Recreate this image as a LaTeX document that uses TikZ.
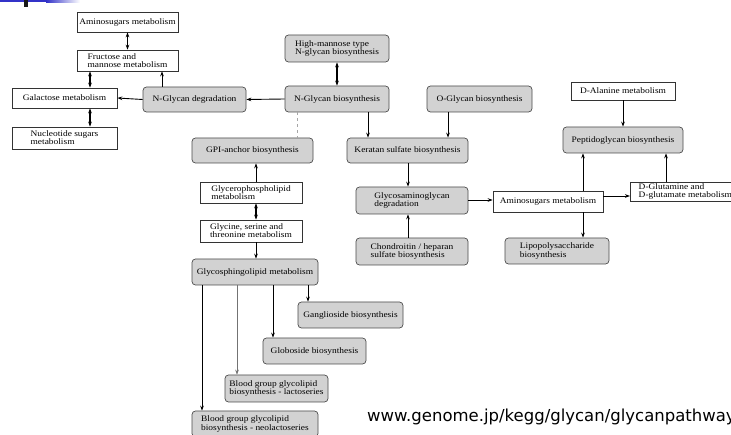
\documentclass[tikz,border=0pt]{standalone}
\usepackage{fontspec}
\setmainfont{Liberation Serif}[FakeStretch=1.12]
\newfontfamily\urlfont{DejaVu Sans}
\usetikzlibrary{arrows.meta}
\definecolor{boxgray}{HTML}{D2D2D2}
\definecolor{barblue}{HTML}{3232C8}
\tikzset{
  base/.style={line width=0.7pt, inner sep=1pt, align=left, text=black,
    font=\fontsize{8.4}{8.2}\selectfont},
  wbox/.style n args={2}{base, draw=black!80, fill=white, minimum width=#1, minimum height=#2},
  gbox/.style n args={2}{base, draw=black!70, fill=boxgray, rounded corners=3.5pt, minimum width=#1, minimum height=#2},
  tip/.tip={Stealth[length=5pt,width=3.6pt]},
  arr/.style={-tip, line width=0.9pt, draw=black},
  darr/.style={tip-tip, line width=1.1pt, draw=black},
  thinarr/.style={-tip, line width=0.5pt, draw=black!55},
  dashline/.style={dashed, line width=0.8pt, draw=black!35},
}
\begin{document}
\begin{tikzpicture}[x=1pt,y=-1pt]
\useasboundingbox (0,0) rectangle (731,435);
\fill[white] (0,0) rectangle (731,435);
\clip (0,0) rectangle (731,435);
% slide decoration
\fill[barblue] (0,0) rectangle (46,2.5);
\shade[left color=barblue, right color=white] (46,0) rectangle (80,2.5);
\fill[black!90] (24,0) rectangle (28,7);

% nodes
\node[wbox={101pt}{20pt}] (am1) at (127.5,22) {Aminosugars metabolism};
\node[wbox={101pt}{21pt}] (fm) at (127.5,60.5) {Fructose and\\mannose metabolism};
\node[wbox={105pt}{20pt}] (gal) at (64.5,98) {Galactose metabolism};
\node[wbox={105pt}{22pt}] (nuc) at (64.5,138) {Nucleotide sugars\\metabolism};
\node[gbox={103pt}{25pt}] (ngd) at (194.5,99.5) {N-Glycan degradation};
\node[gbox={104pt}{27pt}] (hm) at (337,48.5) {High-mannose type\\N-glycan biosynthesis};
\node[gbox={104pt}{26pt}] (ngb) at (337,99) {N-Glycan biosynthesis};
\node[gbox={105pt}{26pt}] (ogb) at (479.5,99) {O-Glycan biosynthesis};
\node[gbox={121pt}{25pt}] (gpi) at (252.5,150.5) {GPI-anchor biosynthesis};
\node[gbox={121pt}{25pt}] (ks) at (407.5,150.5) {Keratan sulfate biosynthesis};
\node[wbox={102pt}{21pt}] (gp) at (251,192.5) {Glycerophospholipid\\metabolism};
\node[wbox={102pt}{22pt}] (gly) at (251,231) {Glycine, serine and\\threonine metabolism};
\node[gbox={126pt}{26pt}] (gsl) at (255,272) {Glycosphingolipid metabolism};
\node[gbox={112pt}{27pt}] (gag) at (412,200.5) {Glycosaminoglycan\\degradation};
\node[gbox={112pt}{27pt}] (chs) at (412,251.5) {Chondroitin / heparan\\sulfate biosynthesis};
\node[wbox={110pt}{21pt}] (am2) at (548,201.5) {Aminosugars metabolism};
\node[gbox={104pt}{26pt}] (lps) at (557,251) {Lipopolysaccharide\\biosynthesis};
\node[gbox={120pt}{26pt}] (pg) at (623,140) {Peptidoglycan biosynthesis};
\node[wbox={104pt}{18pt}] (da) at (623,91) {D-Alanine metabolism};
\node[wbox={110pt}{19pt}, anchor=west] (dg) at (630,191.5) {D-Glutamine and\\D-glutamate metabolism};
\node[gbox={105pt}{26pt}] (gang) at (350.5,315) {Ganglioside biosynthesis};
\node[gbox={103pt}{26pt}] (glo) at (314.5,351) {Globoside biosynthesis};
\node[gbox={103pt}{27pt}] (bgl) at (276.5,388.5) {Blood group glycolipid\\biosynthesis - lactoseries};
\node[gbox={126pt}{26pt}] (bgn) at (255,424) {Blood group glycolipid\\biosynthesis - neolactoseries};

% connectors
\draw[darr] (am1) -- (fm);
\draw[darr] (90,0 |- fm.south) -- (90,0 |- gal.north);
\draw[darr] (90,0 |- gal.south) -- (90,0 |- nuc.north);
\draw[arr] (162,0 |- ngd.north) -- (162,0 |- fm.south);
\draw[arr] (ngd.west) -- (gal.east);
\draw[arr] (ngb.west) -- (ngd.east);
\draw[darr] (hm) -- (ngb);
\draw[dashline] (297,0 |- ngb.south) -- (297,0 |- gpi.north);
\draw[arr] (368,0 |- ngb.south) -- (368,0 |- ks.north);
\draw[arr] (448,0 |- ogb.south) -- (448,0 |- ks.north);
\draw[arr] (256,0 |- gp.north) -- (256,0 |- gpi.south);
\draw[darr] (256,0 |- gp.south) -- (256,0 |- gly.north);
\draw[arr] (256,0 |- gly.south) -- (256,0 |- gsl.north);
\draw[arr] (408,0 |- ks.south) -- (408,0 |- gag.north);
\draw[arr] (408,0 |- chs.north) -- (408,0 |- gag.south);
\draw[arr] (gag.east |- 0,200) -- (am2.west |- 0,200);
\draw[arr] (583,0 |- am2.south) -- (583,0 |- lps.north);
\draw[arr] (583,0 |- am2.north) -- (583,0 |- pg.south);
\draw[arr] (da) -- (pg);
\draw[arr] (am2.east |- 0,196) -- (dg.west |- 0,196);
\draw[arr] (666,0 |- dg.north) -- (666,0 |- pg.south);
\draw[arr] (308,0 |- gsl.south) -- (308,0 |- gang.north);
\draw[arr] (273,0 |- gsl.south) -- (273,0 |- glo.north);
\draw[thinarr] (237,0 |- gsl.south) -- (237,0 |- bgl.north);
\draw[arr] (202,0 |- gsl.south) -- (202,0 |- bgn.north);

% source line
\node[anchor=base west, inner sep=0pt, font=\urlfont\fontsize{16.5}{18}\selectfont] (src) at (367,421) {www.genome.jp/kegg/glycan/glycanpathway};
\end{tikzpicture}
\end{document}
